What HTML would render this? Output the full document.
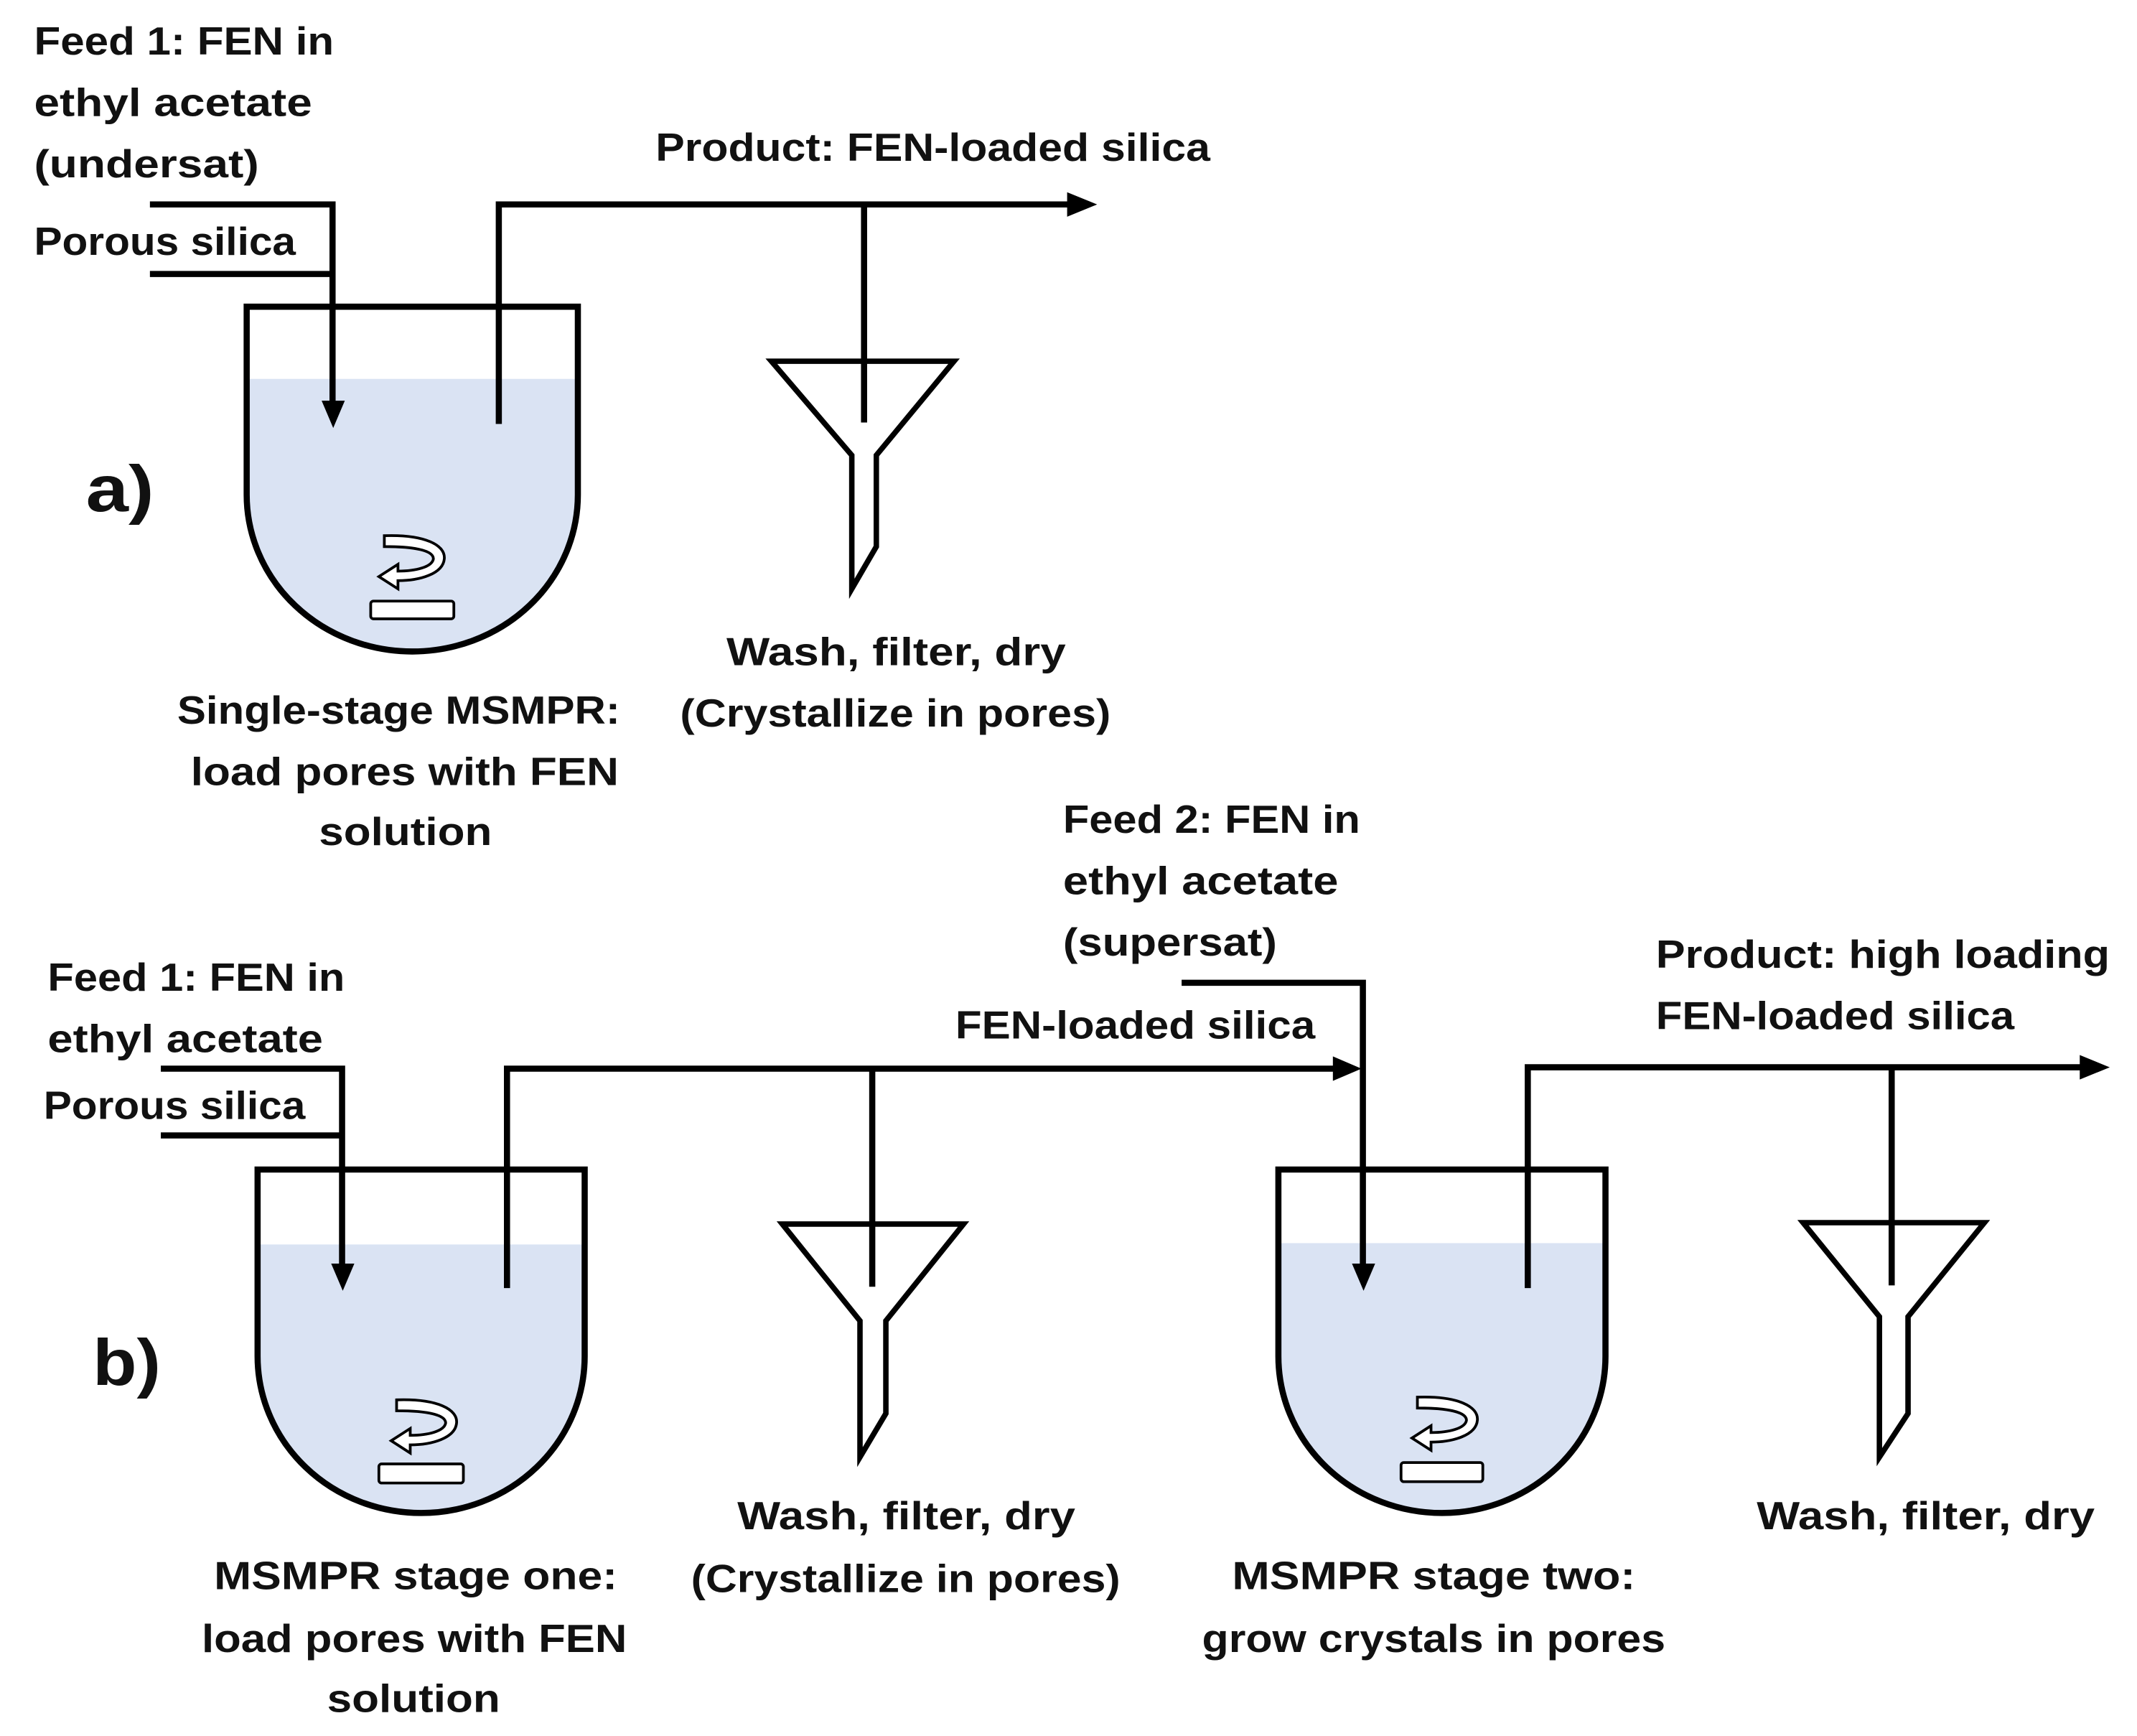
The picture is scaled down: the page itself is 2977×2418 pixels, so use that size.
<!DOCTYPE html>
<html><head><meta charset="utf-8"><style>
html,body{margin:0;padding:0;background:#fff;}
svg{display:block;}
text{font-family:"Liberation Sans",sans-serif;font-weight:bold;font-size:29px;fill:#111;}
.big{font-size:48px;}
</style></head><body>
<svg width="2977" height="2418" viewBox="0 0 1568 1273.6" preserveAspectRatio="none" xmlns="http://www.w3.org/2000/svg">
<defs>
<marker id="ah" markerWidth="10" markerHeight="10" refX="9" refY="5" orient="auto" markerUnits="userSpaceOnUse" viewBox="0 0 10 10">
</marker>
</defs>
<g fill="none" stroke="#000" stroke-width="4.5">
<!-- ===== a) ===== -->
<!-- liquid -->
<path d="M181,278 L424,278 L424,363 A121.5,115 0 0 1 181,363 Z" fill="#dae3f3" stroke="none"/>
<!-- vessel -->
<path d="M181,225 L424,225 L424,363 A121.5,115 0 0 1 181,363 Z"/>
<!-- feed lines -->
<polyline points="110,150 244,150 244,296"/>
<line x1="110" y1="201" x2="244" y2="201"/>
<polygon points="236,294 253,294 244.5,314" fill="#000" stroke="none"/>
<!-- outlet -->
<polyline points="366,311 366,150 785,150"/>
<polygon points="783,141 805,150 783,159" fill="#000" stroke="none"/>
<line x1="634" y1="150" x2="634" y2="310"/>
<!-- funnel -->
<path d="M566,265 L700,265 L643,334 L643,401 L625,432 L625,334 Z" stroke-width="4"/>
<!-- stirrer -->
<g stroke-width="2">
<path d="M282,393 C312,392 327,400 326,410 C325,421 308,426 292,426 L292,432 L278,423 L292,414 L292,419 C305,419 317,416 318,410 C318,404 305,401 282,401 Z" fill="#fff"/>
<rect x="272" y="441" width="61" height="13" rx="2" fill="#fff"/>
</g>

<!-- ===== b) ===== -->
<path d="M189,913 L429,913 L429,995 A120,115 0 0 1 189,995 Z" fill="#dae3f3" stroke="none"/>
<path d="M189,858 L429,858 L429,995 A120,115 0 0 1 189,995 Z"/>
<polyline points="118,784 251,784 251,928"/>
<line x1="118" y1="833" x2="251" y2="833"/>
<polygon points="243,927 260,927 251.5,947" fill="#000" stroke="none"/>
<polyline points="372,945 372,784 980,784"/>
<polygon points="978,775 999,784 978,793" fill="#000" stroke="none"/>
<line x1="640" y1="784" x2="640" y2="944"/>
<path d="M574,898 L707,898 L650,969 L650,1037 L631,1069 L631,969 Z" stroke-width="4"/>
<g stroke-width="2">
<path d="M291,1027 C321,1026 336,1034 335,1044 C334,1055 317,1060 301,1060 L301,1066 L287,1057 L301,1048 L301,1053 C314,1053 326,1050 327,1044 C327,1038 314,1035 291,1035 Z" fill="#fff"/>
<rect x="278" y="1074" width="62" height="14" rx="2" fill="#fff"/>
</g>

<!-- feed 2 -->
<path d="M938,912 L1178,912 L1178,995 A120,115 0 0 1 938,995 Z" fill="#dae3f3" stroke="none"/>
<path d="M938,858 L1178,858 L1178,995 A120,115 0 0 1 938,995 Z"/>
<polyline points="867,721 1000,721 1000,928"/>
<polygon points="992,927 1009,927 1000.5,947" fill="#000" stroke="none"/>
<polyline points="1121,945 1121,783 1528,783"/>
<polygon points="1526,774 1548,783 1526,792" fill="#000" stroke="none"/>
<line x1="1388" y1="783" x2="1388" y2="943"/>
<path d="M1323,897 L1456,897 L1400,966 L1400,1037 L1379,1069 L1379,966 Z" stroke-width="4"/>
<g stroke-width="2">
<path d="M1040,1025 C1070,1024 1085,1032 1084,1042 C1083,1053 1066,1058 1050,1058 L1050,1064 L1036,1055 L1050,1046 L1050,1051 C1063,1051 1075,1048 1076,1042 C1076,1036 1063,1033 1040,1033 Z" fill="#fff"/>
<rect x="1028" y="1073" width="60" height="14" rx="2" fill="#fff"/>
</g>
</g>

<!-- ===== text ===== -->
<text x="25" y="40" textLength="220" lengthAdjust="spacingAndGlyphs">Feed 1: FEN in</text>
<text x="25" y="85" textLength="204" lengthAdjust="spacingAndGlyphs">ethyl acetate</text>
<text x="25" y="130" textLength="165" lengthAdjust="spacingAndGlyphs">(undersat)</text>
<text x="25" y="187" textLength="192" lengthAdjust="spacingAndGlyphs">Porous silica</text>
<text x="481" y="118" textLength="407" lengthAdjust="spacingAndGlyphs">Product: FEN-loaded silica</text>
<text class="big" x="63" y="375" textLength="50" lengthAdjust="spacingAndGlyphs">a)</text>
<text x="533" y="488" textLength="249" lengthAdjust="spacingAndGlyphs">Wash, filter, dry</text>
<text x="499" y="533" textLength="316" lengthAdjust="spacingAndGlyphs">(Crystallize in pores)</text>
<text x="130" y="531" textLength="325" lengthAdjust="spacingAndGlyphs">Single-stage MSMPR:</text>
<text x="140" y="576" textLength="314" lengthAdjust="spacingAndGlyphs">load pores with FEN</text>
<text x="234" y="620" textLength="127" lengthAdjust="spacingAndGlyphs">solution</text>

<text x="780" y="611" textLength="218" lengthAdjust="spacingAndGlyphs">Feed 2: FEN in</text>
<text x="780" y="656" textLength="202" lengthAdjust="spacingAndGlyphs">ethyl acetate</text>
<text x="780" y="701" textLength="157" lengthAdjust="spacingAndGlyphs">(supersat)</text>
<text x="701" y="762" textLength="264" lengthAdjust="spacingAndGlyphs">FEN-loaded silica</text>
<text x="1215" y="710" textLength="333" lengthAdjust="spacingAndGlyphs">Product: high loading</text>
<text x="1215" y="755" textLength="263" lengthAdjust="spacingAndGlyphs">FEN-loaded silica</text>

<text x="35" y="727" textLength="218" lengthAdjust="spacingAndGlyphs">Feed 1: FEN in</text>
<text x="35" y="772" textLength="202" lengthAdjust="spacingAndGlyphs">ethyl acetate</text>
<text x="32" y="821" textLength="192" lengthAdjust="spacingAndGlyphs">Porous silica</text>
<text class="big" x="68" y="1016" textLength="50" lengthAdjust="spacingAndGlyphs">b)</text>

<text x="541" y="1122" textLength="248" lengthAdjust="spacingAndGlyphs">Wash, filter, dry</text>
<text x="507" y="1168" textLength="315" lengthAdjust="spacingAndGlyphs">(Crystallize in pores)</text>
<text x="157" y="1166" textLength="296" lengthAdjust="spacingAndGlyphs">MSMPR stage one:</text>
<text x="148" y="1212" textLength="312" lengthAdjust="spacingAndGlyphs">load pores with FEN</text>
<text x="240" y="1256" textLength="127" lengthAdjust="spacingAndGlyphs">solution</text>
<text x="904" y="1166" textLength="296" lengthAdjust="spacingAndGlyphs">MSMPR stage two:</text>
<text x="882" y="1212" textLength="340" lengthAdjust="spacingAndGlyphs">grow crystals in pores</text>
<text x="1289" y="1122" textLength="248" lengthAdjust="spacingAndGlyphs">Wash, filter, dry</text>
</svg>
</body></html>
